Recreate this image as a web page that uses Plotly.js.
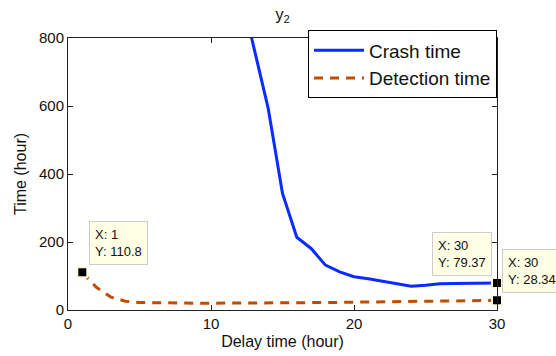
<!DOCTYPE html>
<html>
<head>
<meta charset="utf-8">
<script src="https://cdn.plot.ly/plotly-3.0.1.min.js"></script>
<style>html,body{margin:0;padding:0;background:#fff;}#chart{width:556px;height:356px;}</style>
</head>
<body>
<div id="chart"></div>
<script>
var crashX = [12, 13, 14, 15, 16, 17, 18, 19, 20, 21, 22, 23, 24, 25, 26, 27, 28, 29, 30];
var crashY = [950, 773, 593, 343, 214, 181, 132, 112, 98, 92, 85, 77, 70, 73, 77, 78, 78, 78.5, 79.37];
var detX = [1, 2, 3, 4, 5, 6, 7, 8, 9, 10, 11, 12, 13, 14, 15, 16, 17, 18, 19, 20, 21, 22, 23, 24, 25, 26, 27, 28, 29, 30];
var detY = [110.8, 66, 38, 26, 22, 21, 20.5, 20, 20, 20, 20, 20, 20.5, 21, 21, 21.5, 22, 22, 22.5, 23, 23.5, 24, 24.5, 25, 25.5, 26, 26.5, 27, 27.5, 28.34];
var tipX = [1, 30, 30];
var tipY = [110.8, 79.37, 28.34];
var xTicks = [0, 10, 20, 30];
var yTicks = [0, 200, 400, 600, 800];

var font = 'Liberation Sans, Arial, Helvetica, sans-serif';

var traces = [
  {x: crashX, y: crashY, mode: 'lines', name: 'Crash time',
   line: {color: '#0a2cff', width: 3}},
  {x: detX, y: detY, mode: 'lines', name: 'Detection time',
   line: {color: '#bf4d00', width: 3, dash: '9px,7px'}},
  {x: tipX, y: tipY, mode: 'markers', showlegend: false, cliponaxis: false,
   marker: {symbol: 'square', size: 10, color: '#000', line: {color: '#fffbe0', width: 2}}}
];

function tip(i, xa, xs, ys) {
  return {x: tipX[i], y: tipY[i], xref: 'x', yref: 'y', showarrow: false,
    text: 'X: ' + tipX[i] + '<br>Y: ' + tipY[i], align: 'left',
    xanchor: xa, yanchor: 'bottom', xshift: xs, yshift: ys,
    bgcolor: '#ffffe6', bordercolor: '#cccccc', borderwidth: 1, borderpad: 5,
    font: {family: font, size: 13, color: '#111'}};
}

var layout = {
  width: 556, height: 356,
  margin: {l: 68, r: 59, t: 38, b: 46, pad: 0},
  paper_bgcolor: '#fff', plot_bgcolor: '#fff',
  font: {family: font, size: 15, color: '#111'},
  title: {text: 'y<sub>2</sub>', font: {family: font, size: 16, color: '#111'},
          x: 0.5, xref: 'paper', xanchor: 'center', y: 0.96, yref: 'container', yanchor: 'middle'},
  xaxis: {range: [0, 30], tickvals: xTicks, ticktext: xTicks.map(String),
          showgrid: false, zeroline: false, showline: true, linecolor: '#222', linewidth: 1,
          mirror: 'ticks', ticks: 'inside', ticklen: 5, tickcolor: '#222',
          tickfont: {family: font, size: 15, color: '#111'},
          title: {text: 'Delay time (hour)', font: {family: font, size: 16, color: '#111'}, standoff: 4}},
  yaxis: {range: [0, 800], tickvals: yTicks, ticktext: yTicks.map(String),
          showgrid: false, zeroline: false, showline: true, linecolor: '#222', linewidth: 1,
          mirror: 'ticks', ticks: 'inside', ticklen: 5, tickcolor: '#222',
          tickfont: {family: font, size: 15, color: '#111'},
          title: {text: 'Time (hour)', font: {family: font, size: 16, color: '#111'}, standoff: 8}},
  legend: {x: 1, xanchor: 'right', y: 1.028, yanchor: 'top',
           bgcolor: '#fff', bordercolor: '#000', borderwidth: 1,
           font: {family: font, size: 19, color: '#111'}, itemwidth: 50,
           tracegroupgap: 0},
  annotations: [tip(0, 'left', 7, 7), tip(1, 'right', -5, 7), tip(2, 'left', 5, 7)],
  showlegend: true
};

Plotly.newPlot('chart', traces, layout, {displayModeBar: false, staticPlot: true});
</script>
</body>
</html>
